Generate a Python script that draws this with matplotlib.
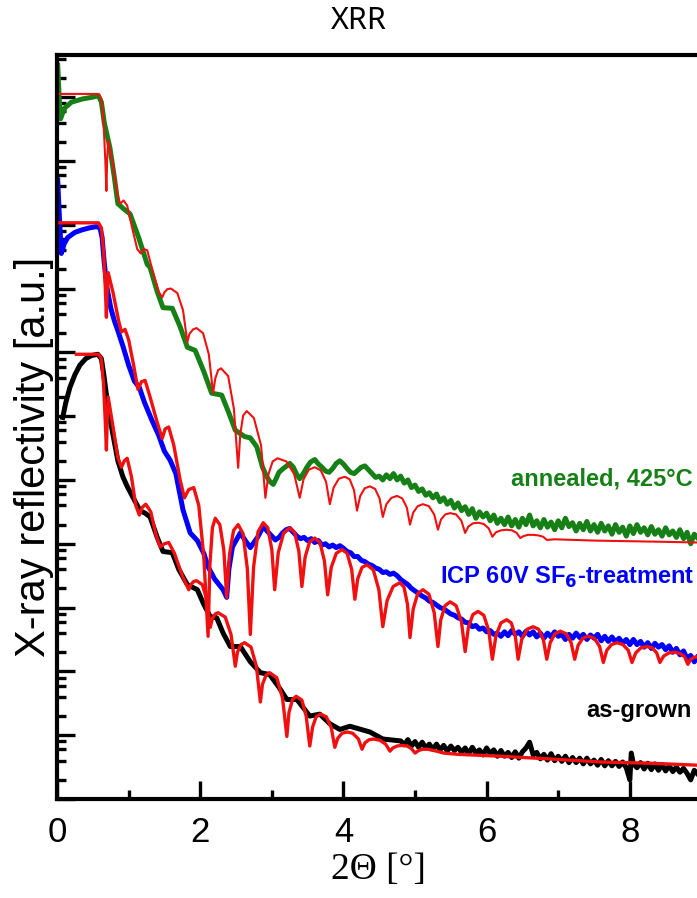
import numpy as np
import matplotlib
matplotlib.use("Agg")
import matplotlib.pyplot as plt
from matplotlib.ticker import LogLocator, NullFormatter, MultipleLocator

# XRR curves: 2-theta in degrees, reflectivity as log10 (curves are stacked, arbitrary units)
grown_tt = [0.08, 0.12, 0.18, 0.25, 0.32, 0.40, 0.48, 0.57, 0.62, 0.66, 0.70, 0.75, 0.80, 0.85,
            0.92, 0.98, 1.05, 1.16, 1.23, 1.30, 1.40, 1.48, 1.61, 1.70, 1.82, 1.96, 2.05, 2.14,
            2.23, 2.32, 2.42, 2.56, 2.70, 2.84, 2.97, 3.10, 3.21, 3.35, 3.53, 3.67, 3.81, 3.95,
            4.09, 4.37, 4.55,
            4.80, 4.85, 4.90, 4.95, 5.00, 5.05, 5.10, 5.15, 5.20, 5.25, 5.30, 5.35, 5.40, 5.45,
            5.50, 5.55, 5.60, 5.65, 5.70, 5.75, 5.80, 5.85, 5.90, 5.95, 6.00, 6.05, 6.10, 6.15,
            6.20, 6.25, 6.30, 6.35, 6.40, 6.45, 6.50, 6.55, 6.60, 6.65, 6.70, 6.75, 6.80, 6.85,
            6.90, 6.95, 7.00, 7.05, 7.10, 7.15, 7.20, 7.25, 7.30, 7.35, 7.40, 7.45, 7.50, 7.55,
            7.60, 7.65, 7.70, 7.75, 7.80, 7.85, 7.90, 7.95, 8.00, 8.02, 8.05, 8.10, 8.15, 8.20,
            8.25, 8.30, 8.35, 8.40, 8.45, 8.50, 8.55, 8.60, 8.65, 8.70, 8.75, 8.80, 8.85, 8.90,
            8.94]
grown_log = [5.98, 6.20, 6.45, 6.65, 6.80, 6.90, 6.95, 6.97, 6.90, 6.60, 6.25, 5.90, 5.60, 5.30,
             5.05, 4.90, 4.75, 4.52, 4.48, 4.42, 4.10, 3.88, 3.86, 3.60, 3.36, 3.28, 3.05, 2.86,
             2.84, 2.60, 2.39, 2.39, 2.15, 1.98, 1.95, 1.75, 1.56, 1.56, 1.30, 1.33, 1.18, 1.09,
             1.14, 1.05, 0.94,
             0.91, 0.85, 0.93, 0.83, 0.90, 0.81, 0.89, 0.80, 0.86, 0.78, 0.86, 0.77, 0.84, 0.75,
             0.83, 0.76, 0.81, 0.73, 0.80, 0.71, 0.81, 0.72, 0.77, 0.69, 0.80, 0.71, 0.77, 0.67,
             0.76, 0.67, 0.73, 0.65, 0.74, 0.64, 0.74, 0.80, 0.89, 0.69, 0.73, 0.63, 0.70, 0.61,
             0.71, 0.60, 0.67, 0.59, 0.67, 0.57, 0.65, 0.57, 0.64, 0.55, 0.64, 0.55, 0.61, 0.53,
             0.62, 0.52, 0.60, 0.52, 0.59, 0.51, 0.58, 0.49, 0.30, 0.72, 0.55, 0.49, 0.57, 0.47,
             0.56, 0.46, 0.55, 0.45, 0.54, 0.44, 0.52, 0.43, 0.50, 0.42, 0.48, 0.40, 0.30, 0.45,
             0.40]

grown_fit_tt = [0.27, 0.58, 0.62, 0.65, 0.675, 0.69, 0.70, 0.715, 0.78, 0.85, 0.90, 0.94, 0.98,
                1.04, 1.10, 1.15, 1.19, 1.24, 1.31, 1.38, 1.44, 1.50, 1.56, 1.64, 1.75, 1.84,
                1.87, 1.91, 1.95, 2.03, 2.09, 2.14, 2.17, 2.21, 2.25, 2.35, 2.43, 2.49, 2.52,
                2.57, 2.62, 2.71, 2.785, 2.84, 2.87, 2.92, 2.97, 3.07, 3.15, 3.21, 3.24, 3.29,
                3.34, 3.42, 3.48, 3.53, 3.57, 3.62, 3.68, 3.76, 3.83, 3.88, 3.92, 3.98, 4.05,
                4.13, 4.21, 4.26, 4.30, 4.36, 4.42, 4.51, 4.59, 4.65, 4.69, 4.75, 4.81, 4.89,
                4.95, 5.00, 5.05, 5.11, 5.18, 5.30, 5.40, 5.60, 6.20, 7.00, 7.60, 8.30, 8.94]
grown_fit_log = [6.97, 6.97, 6.90, 6.50, 5.90, 5.47, 5.90, 6.30, 5.85, 5.35, 5.20, 5.30, 5.34,
                 5.05, 4.60, 4.45, 4.57, 4.62, 4.50, 4.15, 3.95, 4.00, 4.02, 3.85, 3.50, 3.28,
                 3.36, 3.41, 3.42, 3.36, 3.13, 2.69, 2.83, 2.90, 2.92, 2.85, 2.58, 2.08, 2.30,
                 2.42, 2.45, 2.38, 2.08, 1.52, 1.80, 1.94, 1.98, 1.90, 1.58, 0.98, 1.36, 1.56,
                 1.61, 1.55, 1.30, 0.83, 1.13, 1.29, 1.33, 1.29, 1.12, 0.81, 0.95, 1.03, 1.05,
                 1.03, 0.94, 0.78, 0.88, 0.93, 0.94, 0.92, 0.86, 0.75, 0.80, 0.83, 0.84, 0.83,
                 0.79, 0.72, 0.76, 0.78, 0.78, 0.75, 0.72, 0.70, 0.67, 0.62, 0.58, 0.56, 0.53]

icp_tt = [0.01, 0.03, 0.06, 0.10, 0.15, 0.25, 0.35, 0.45, 0.55, 0.60, 0.63, 0.66, 0.70, 0.75,
          0.80, 0.85, 0.92, 1.00, 1.08, 1.15, 1.22, 1.32, 1.42, 1.50, 1.58, 1.66, 1.76, 1.86,
          1.96, 2.05, 2.11, 2.20, 2.32, 2.37, 2.40, 2.45, 2.56, 2.63, 2.70, 2.80, 2.88,
          2.95, 3.00, 3.05, 3.10, 3.15, 3.20, 3.25, 3.30, 3.35, 3.40, 3.45, 3.50, 3.55, 3.60,
          3.65, 3.70, 3.75, 3.80, 3.85, 3.90, 3.95, 4.00, 4.05, 4.10, 4.15, 4.20, 4.25, 4.30,
          4.35, 4.40, 4.45, 4.50, 4.55, 4.60, 4.65, 4.70, 4.75, 4.80, 4.85, 4.90, 4.95, 5.00,
          5.05, 5.10, 5.15, 5.20, 5.25, 5.30, 5.35, 5.40, 5.45, 5.50, 5.55, 5.60, 5.65, 5.70,
          5.75, 5.80, 5.85, 5.90, 5.95, 6.00, 6.05, 6.10, 6.15, 6.20, 6.25, 6.30, 6.35, 6.40,
          6.45, 6.50, 6.55, 6.60, 6.65, 6.70, 6.75, 6.80, 6.85, 6.90, 6.95, 7.00, 7.05, 7.10,
          7.15, 7.20, 7.25, 7.30, 7.35, 7.40, 7.45, 7.50, 7.55, 7.60, 7.65, 7.70, 7.75, 7.80,
          7.85, 7.90, 7.95, 8.00, 8.05, 8.10, 8.15, 8.20, 8.25, 8.30, 8.35, 8.40, 8.45, 8.50,
          8.55, 8.60, 8.65, 8.70, 8.75, 8.80, 8.85, 8.90, 8.94]
icp_log = [9.70, 9.20, 8.55, 8.70, 8.80, 8.88, 8.92, 8.95, 8.97, 8.95, 8.80, 8.40, 8.00, 7.70,
           7.50, 7.34, 7.10, 6.80, 6.55, 6.45, 6.22, 5.95, 5.70, 5.45, 5.31, 5.10, 4.53, 4.17,
           4.05, 3.85, 3.64, 3.45, 3.28, 3.16, 3.60, 3.95, 4.17, 4.05, 3.94, 4.10, 4.27,
           4.18, 4.12, 4.06, 4.10, 4.17, 4.22, 4.24, 4.18, 4.12, 4.08, 4.10, 4.05, 4.08, 4.02,
           4.05, 3.98, 4.00, 3.95, 3.98, 3.94, 3.97, 3.93, 3.88, 3.86, 3.80, 3.80, 3.74, 3.72,
           3.68, 3.66, 3.62, 3.60, 3.55, 3.56, 3.52, 3.54, 3.50, 3.44, 3.40, 3.36, 3.30, 3.26,
           3.22, 3.18, 3.15, 3.10, 3.08, 3.04, 3.00, 2.98, 2.94, 2.90, 2.88, 2.84, 2.82, 2.77,
           2.76, 2.70, 2.72, 2.66, 2.68, 2.62, 2.64, 2.58, 2.60, 2.55, 2.62, 2.56, 2.64, 2.58,
           2.62, 2.55, 2.63, 2.57, 2.62, 2.54, 2.60, 2.52, 2.60, 2.54, 2.62, 2.55, 2.58, 2.50,
           2.58, 2.52, 2.60, 2.53, 2.58, 2.50, 2.57, 2.52, 2.58, 2.48, 2.55, 2.47, 2.54, 2.46,
           2.52, 2.44, 2.50, 2.42, 2.50, 2.42, 2.47, 2.38, 2.45, 2.36, 2.44, 2.38, 2.42, 2.34,
           2.40, 2.30, 2.36, 2.26, 2.32, 2.20, 2.25, 2.15, 2.22]

icp_fit_tt = [0.04, 0.58, 0.62, 0.65, 0.675, 0.69, 0.70, 0.715, 0.78, 0.86, 0.90, 0.95, 1.00,
              1.07, 1.13, 1.18, 1.23, 1.30, 1.40, 1.47, 1.51, 1.56, 1.63, 1.72, 1.78, 1.84,
              1.91, 1.98, 2.05, 2.11, 2.135, 2.17, 2.21, 2.274, 2.33, 2.37, 2.41, 2.466, 2.53,
              2.598, 2.658, 2.70, 2.745, 2.808, 2.88, 2.944, 3.00, 3.04, 3.09, 3.166, 3.25,
              3.318, 3.378, 3.42, 3.465, 3.528, 3.60, 3.672, 3.735, 3.78, 3.83, 3.90, 3.98,
              4.052, 4.115, 4.16, 4.20, 4.26, 4.33, 4.418, 4.495, 4.55, 4.61, 4.694, 4.79,
              4.846, 4.895, 4.93, 4.975, 5.038, 5.11, 5.194, 5.268, 5.32, 5.36, 5.42, 5.49,
              5.574, 5.648, 5.70, 5.745, 5.808, 5.88, 5.96, 6.03, 6.08, 6.13, 6.20, 6.28,
              6.344, 6.40, 6.44, 6.49, 6.566, 6.65, 6.726, 6.792, 6.84, 6.888, 6.954, 7.03,
              7.11, 7.18, 7.23, 7.278, 7.344, 7.42, 7.504, 7.578, 7.63, 7.678, 7.744, 7.82,
              7.904, 7.978, 8.03, 8.083, 8.156, 8.24, 8.312, 8.375, 8.42, 8.473, 8.546, 8.63,
              8.702, 8.765, 8.81, 8.85, 8.90, 8.94]
icp_fit_log = [9.03, 9.03, 8.95, 8.60, 8.00, 7.55, 7.95, 8.25, 7.95, 7.50, 7.32, 7.36, 7.20,
               6.80, 6.42, 6.54, 6.56, 6.30, 5.90, 5.65, 5.80, 5.83, 5.55, 5.00, 4.72, 4.85,
               4.88, 4.60, 3.80, 2.55, 3.66, 4.25, 4.40, 4.30, 3.90, 3.16, 3.84, 4.21, 4.30,
               4.16, 3.61, 2.58, 3.63, 4.19, 4.33, 4.25, 3.91, 3.28, 3.86, 4.17, 4.25,
               4.18, 3.88, 3.33, 3.79, 4.03, 4.09, 4.02, 3.73, 3.20, 3.63, 3.85, 3.91,
               3.85, 3.60, 3.13, 3.45, 3.63, 3.67, 3.59, 3.28, 2.70, 3.11, 3.33, 3.39,
               3.32, 3.05, 2.53, 2.98, 3.22, 3.28, 3.21, 2.92, 2.39, 2.81, 3.03, 3.09,
               3.03, 2.78, 2.31, 2.69, 2.89, 2.94, 2.88, 2.64, 2.19, 2.56, 2.76, 2.81,
               2.76, 2.56, 2.19, 2.50, 2.66, 2.70, 2.66, 2.50, 2.19, 2.45, 2.59, 2.63,
               2.59, 2.45, 2.19, 2.41, 2.52, 2.55, 2.52, 2.39, 2.14, 2.33, 2.42, 2.45,
               2.42, 2.33, 2.14, 2.29, 2.37, 2.39, 2.37, 2.29, 2.14, 2.24, 2.29, 2.30,
               2.28, 2.23, 2.11, 2.19, 2.22, 2.23]

anneal_tt = [0.01, 0.03, 0.05, 0.10, 0.20, 0.35, 0.50, 0.58, 0.62, 0.66, 0.70, 0.74, 0.80,
             0.85, 0.93, 1.02, 1.14, 1.26, 1.30, 1.40, 1.48, 1.61, 1.72, 1.82, 1.93, 2.05,
             2.16, 2.30, 2.40, 2.49, 2.62, 2.70, 2.79, 2.87,
             2.93, 2.97, 3.02, 3.06, 3.10, 3.16, 3.21, 3.25, 3.30, 3.35, 3.39, 3.44, 3.49,
             3.54, 3.60, 3.65, 3.70, 3.75, 3.80, 3.85, 3.90, 3.95, 4.00, 4.05, 4.10, 4.15,
             4.20, 4.25, 4.30, 4.35, 4.40, 4.45, 4.50, 4.55, 4.60, 4.65, 4.70, 4.75, 4.80,
             4.85, 4.90, 4.95, 5.00, 5.05, 5.10, 5.15, 5.20, 5.25, 5.30, 5.35, 5.40, 5.45,
             5.50, 5.55, 5.60, 5.65, 5.70, 5.75, 5.80, 5.85, 5.90, 5.95, 6.00, 6.05, 6.10,
             6.15, 6.20, 6.25, 6.30, 6.35, 6.40, 6.45, 6.50, 6.55, 6.60, 6.65, 6.70, 6.75,
             6.80, 6.85, 6.90, 6.95, 7.00, 7.05, 7.10, 7.15, 7.20, 7.25, 7.30, 7.35, 7.40,
             7.45, 7.50, 7.55, 7.60, 7.65, 7.70, 7.75, 7.80, 7.85, 7.90, 7.95, 8.00, 8.05,
             8.10, 8.15, 8.20, 8.25, 8.30, 8.35, 8.40, 8.45, 8.50, 8.55, 8.60, 8.65, 8.70,
             8.75, 8.80, 8.85, 8.90, 8.94]
anneal_log = [11.50, 11.00, 10.66, 10.82, 10.92, 10.97, 11.00, 11.02, 10.92, 10.60, 10.40,
              10.20, 9.75, 9.33, 9.25, 9.17, 8.80, 8.38, 8.33, 7.95, 7.70, 7.69, 7.40, 7.08,
              7.03, 6.70, 6.36, 6.33, 6.05, 5.78, 5.68, 5.66, 5.52, 5.20,
              5.05, 4.98, 4.93, 5.02, 5.12, 5.18, 5.22, 5.26, 5.20, 5.08, 5.02, 5.10, 5.20,
              5.28, 5.32, 5.25, 5.20, 5.14, 5.12, 5.18, 5.26, 5.30, 5.25, 5.18, 5.12, 5.10,
              5.15, 5.20, 5.22, 5.16, 5.10, 5.04, 5.06, 5.00, 5.08, 5.02, 5.10, 5.00, 5.06,
              4.95, 5.00, 4.88, 4.92, 4.82, 4.86, 4.76, 4.80, 4.72, 4.78, 4.66, 4.72, 4.62,
              4.68, 4.56, 4.64, 4.52, 4.58, 4.46, 4.55, 4.40, 4.50, 4.42, 4.48, 4.36, 4.45,
              4.32, 4.40, 4.30, 4.42, 4.28, 4.38, 4.26, 4.40, 4.30, 4.45, 4.28, 4.36, 4.25,
              4.38, 4.26, 4.34, 4.22, 4.36, 4.25, 4.40, 4.27, 4.33, 4.20, 4.32, 4.22, 4.35,
              4.20, 4.30, 4.18, 4.32, 4.20, 4.28, 4.15, 4.30, 4.18, 4.26, 4.12, 4.28, 4.16,
              4.30, 4.18, 4.25, 4.14, 4.27, 4.15, 4.22, 4.12, 4.25, 4.14, 4.20, 4.10, 4.22,
              4.08, 4.18, 4.00, 4.15, 4.10]

anneal_fit_tt = [0.04, 0.58, 0.62, 0.65, 0.675, 0.69, 0.70, 0.715, 0.78, 0.84, 0.88, 0.93,
                 0.98, 1.05, 1.12, 1.17, 1.21, 1.26, 1.33, 1.42, 1.47, 1.50, 1.54, 1.59, 1.68,
                 1.76, 1.82, 1.85, 1.90, 1.95, 2.04, 2.12, 2.18, 2.21, 2.25, 2.29, 2.39, 2.47,
                 2.53, 2.56, 2.60, 2.65, 2.75, 2.85, 2.91, 2.953, 3.012, 3.08, 3.204, 3.313,
                 3.39, 3.443, 3.516, 3.60, 3.684, 3.758, 3.81, 3.863, 3.936, 4.02, 4.088,
                 4.148, 4.19, 4.235, 4.298, 4.37, 4.442, 4.505, 4.55, 4.60, 4.67, 4.75, 4.822,
                 4.885, 4.93, 4.975, 5.038, 5.11, 5.194, 5.268, 5.32, 5.363, 5.422, 5.49,
                 5.574, 5.648, 5.70, 5.745, 5.808, 5.88, 5.96, 6.03, 6.08, 6.13, 6.20, 6.28,
                 6.356, 6.42, 6.47, 6.515, 6.578, 6.65, 6.726, 6.79, 6.84, 6.95, 7.50, 8.00,
                 8.50, 8.94]
anneal_fit_log = [11.05, 11.05, 10.97, 10.60, 10.00, 9.53, 10.00, 10.32, 9.95, 9.50, 9.33,
                  9.38, 9.30, 8.95, 8.62, 8.55, 8.62, 8.60, 8.30, 7.95, 7.86, 7.94, 7.99, 8.00,
                  7.93, 7.66, 7.16, 7.29, 7.36, 7.38, 7.30, 6.97, 6.36, 6.59, 6.72, 6.75, 6.63,
                  6.12, 5.19, 5.72, 6.01, 6.08, 5.97, 5.54, 4.72, 5.09, 5.29, 5.34, 5.29, 5.09,
                  4.72, 5.01, 5.16, 5.20, 5.15, 4.97, 4.62, 4.88, 5.02, 5.05, 5.01,
                  4.84, 4.52, 4.75, 4.87, 4.90, 4.86, 4.71, 4.42, 4.62, 4.72, 4.75, 4.71,
                  4.57, 4.30, 4.49, 4.59, 4.62, 4.59, 4.46, 4.22, 4.38, 4.46, 4.48,
                  4.46, 4.36, 4.17, 4.27, 4.32, 4.33, 4.31, 4.24, 4.11, 4.18, 4.21, 4.22,
                  4.21, 4.17, 4.09, 4.12, 4.14, 4.14, 4.13, 4.11, 4.06, 4.07, 4.05, 4.04,
                  4.03, 4.02]

GREEN = "#168016"
BLUE = "#0000ff"
RED = "#f01010"

plt.rcParams["font.family"] = ["Liberation Sans", "DejaVu Sans"]

fig = plt.figure(figsize=(6.97, 8.98), dpi=100)
ax = fig.add_axes([57 / 697, 99 / 898, 643 / 697, 744 / 898])


def pow10(vals):
    return 10.0 ** np.asarray(vals)


# measured curves (thick) with simulated fits (red) on top
ax.plot(anneal_tt, pow10(anneal_log), color=GREEN, lw=3.6, zorder=2)
ax.plot(anneal_fit_tt, pow10(anneal_fit_log), color=RED, lw=1.5, zorder=3)
ax.plot(icp_tt, pow10(icp_log), color=BLUE, lw=3.6, zorder=2)
ax.plot(icp_fit_tt, pow10(icp_fit_log), color=RED, lw=2.4, zorder=3)
ax.plot(grown_tt, pow10(grown_log), color="black", lw=3.6, zorder=2)
ax.plot(grown_fit_tt, pow10(grown_fit_log), color=RED, lw=2.4, zorder=3)

ax.set_yscale("log")
ax.set_xlim(0, 8.98)
ax.set_ylim(1.0, 10 ** 11.66)

ax.xaxis.set_major_locator(MultipleLocator(2))
ax.xaxis.set_minor_locator(MultipleLocator(1))
ax.yaxis.set_major_locator(LogLocator(base=10, numticks=20))
ax.yaxis.set_minor_locator(LogLocator(base=10, subs=(2, 4, 6, 8), numticks=20))
ax.yaxis.set_major_formatter(NullFormatter())
ax.yaxis.set_minor_formatter(NullFormatter())

ax.tick_params(which="major", direction="in", length=13, width=2.4, top=False, right=False)
ax.tick_params(which="minor", direction="in", length=6.5, width=2.4, top=False, right=False)
ax.tick_params(axis="x", labelsize=25, pad=12.5)
for sp in ax.spines.values():
    sp.set_linewidth(3)

ax.set_xlabel("2\u0398 [\u00b0]", fontsize=27, family="Liberation Serif", labelpad=2.5)
ax.set_ylabel("X-ray reflectivity [a.u.]", fontsize=30)
ax.yaxis.set_label_coords(-0.004, 0.46)
fig.text(359 / 697, 1 - 21 / 898, "XRR", ha="center", va="center", fontsize=22,
         family="Noto Sans")

ax.text(8.88, 10 ** 5.02, "annealed, 425\u00b0C", color=GREEN, fontsize=17,
        fontweight="bold", ha="right", va="center")
ax.text(8.9, 10 ** 3.47, "ICP 60V SF$_\\mathbf{6}$-treatment", color=BLUE, fontsize=17,
        fontweight="bold", ha="right", va="center")
ax.text(8.87, 10 ** 1.38, "as-grown", color="black", fontsize=17,
        fontweight="bold", ha="right", va="center")

fig.savefig("out.png", dpi=100)
